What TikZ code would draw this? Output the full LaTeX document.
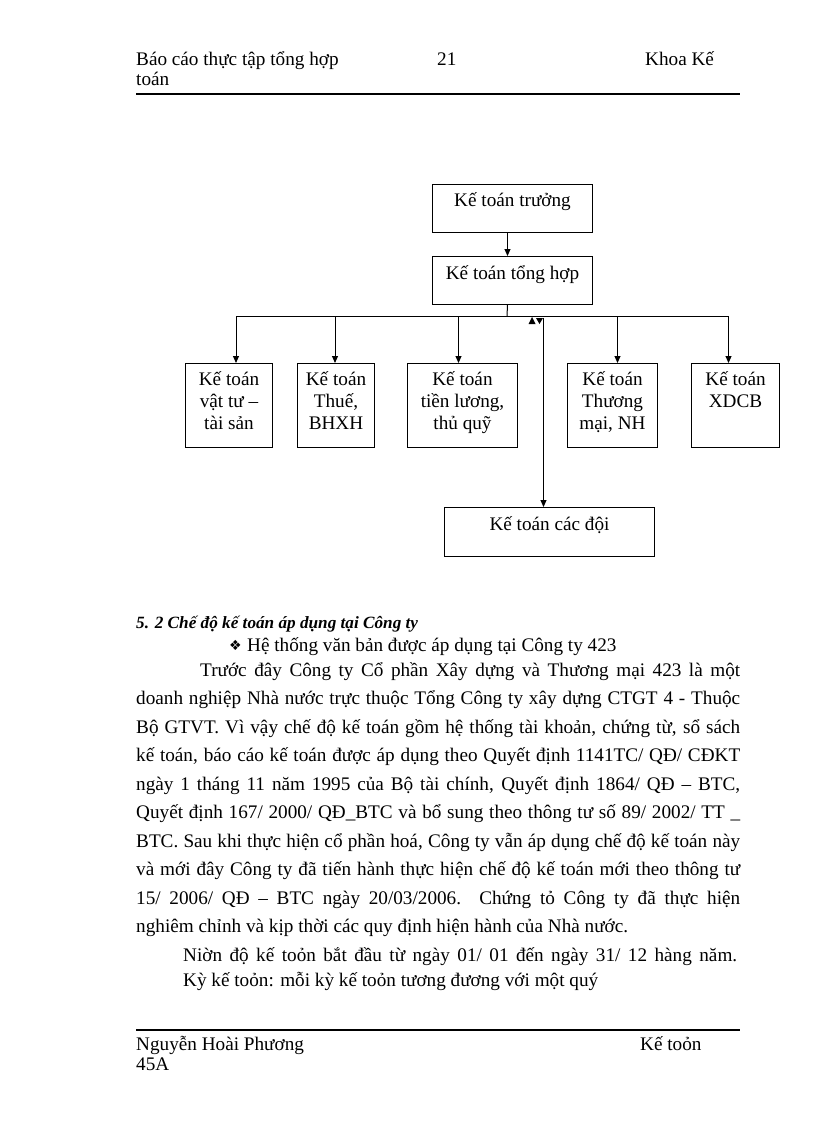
\documentclass[tikz,border=0pt]{standalone}
\usepackage{fontspec}
\setmainfont{Liberation Serif}
\newfontfamily\symbfont{DejaVu Sans}
\usetikzlibrary{arrows.meta}

\begin{document}
\begin{tikzpicture}[x=1pt,y=-1pt,
	txt/.style={anchor=base west, inner sep=0pt, font=\fontsize{19.2}{22}\selectfont},
	box/.style={draw, line width=1pt, anchor=north west, inner sep=0pt, align=center, font=\fontsize{19.2}{22}\selectfont},
	onebox/.style={box, text height=14pt, text depth=17pt},
	arr/.style={line width=1pt, -{Triangle[width=6pt,length=7pt]}}]
	\fill[white] (0,0) rectangle (816,1123);
	\useasboundingbox (0,0) rectangle (816,1123);
	% page header
	\node[txt] (hdrA) at (136,66) {Báo cáo thực tập tổng hợp};
	\node[txt] (hdrB) at (136,86) {toán};
	\node[txt] (hdrC) at (437,66) {21};
	\node[txt] (hdrD) at (645,66) {Khoa Kế};
	\draw[line width=2.2pt] (136,94) -- (740,94);
	% chart
	\node[onebox, minimum width=160pt, minimum height=48pt] (truong) at (432,184) {Kế toán trưởng};
	\node[onebox, minimum width=160pt, minimum height=48pt] (tonghop) at (432,256) {Kế toán tổng hợp};
	\node[box, text depth=9pt, minimum width=87pt, minimum height=84pt] (vattu) at (185,363) {Kế toán\\vật tư --\\tài sản};
	\node[box, text depth=9pt, minimum width=77pt, minimum height=84pt] (thue) at (297,363) {Kế toán\\Thuế,\\BHXH};
	\node[box, text depth=9pt, minimum width=110pt, minimum height=84pt] (luong) at (407,363) {Kế toán\\tiền lương,\\thủ quỹ};
	\node[box, text depth=9pt, minimum width=90pt, minimum height=84pt] (thuongmai) at (567,363) {Kế toán\\Thương\\mại, NH};
	\node[box, text depth=9pt, minimum width=88pt, minimum height=84pt] (xdcb) at (691,363) {Kế toán\\XDCB\\\mbox{}};
	\node[onebox, minimum width=210pt, minimum height=49pt] (doi) at (444,507) {Kế toán các đội};
	\coordinate (bus) at (507,316);
	\draw[arr] ([xshift=-5pt]truong.south) -- ([xshift=-5pt]tonghop.north);
	\draw[line width=1pt] ([xshift=-5pt]tonghop.south) -- (bus);
	\foreach \n/\dx in {vattu/7,thue/-1,luong/-4,thuongmai/5,xdcb/-7} {
		\coordinate (t\n) at ([xshift=\dx pt]\n.north);
		\draw[arr] (t\n |- bus) -- (t\n);
	}
	\draw[line width=1pt] (tvattu |- bus) -- (txdcb |- bus);
	\coordinate (tdoi) at ([xshift=-6pt]doi.north);
	\draw[arr] ([yshift=-2pt]tdoi |- bus) -- (tdoi);
	\fill (532,317) -- (528.5,324) -- (535.5,324) -- cycle;
	\fill (536,318) -- (543,318) -- (539.5,324) -- cycle;
	% text below
	\node[txt, font=\fontsize{17.2}{22}\selectfont\bfseries\itshape] (head) at (136,628) {5. 2 Chế độ kế toán áp dụng tại Công ty};
	\node[txt, font=\fontsize{14}{16}\symbfont] (bullet) at (229,650) {❖};
	\node[txt] (sub) at (247,651) {Hệ thống văn bản được áp dụng tại  Công ty 423};
	\node[txt] (line1) at (200,676) {\makebox[540pt][s]{Trước đây Công ty Cổ phần Xây dựng và Thương mại 423 là một}};
	\node[txt] (line2) at (136,704.5) {\makebox[604pt][s]{doanh nghiệp Nhà nước trực thuộc Tổng Công ty xây dựng CTGT 4 - Thuộc}};
	\node[txt] (line3) at (136,733) {\makebox[604pt][s]{Bộ GTVT. Vì vậy chế độ kế toán gồm hệ thống tài khoản, chứng từ, sổ sách}};
	\node[txt] (line4) at (136,761.5) {\makebox[604pt][s]{kế toán, báo cáo kế toán được áp dụng theo Quyết định 1141TC/ QĐ/ CĐKT}};
	\node[txt] (line5) at (136,790) {\makebox[604pt][s]{ngày 1 tháng 11 năm 1995 của Bộ tài chính, Quyết định 1864/ QĐ -- BTC,}};
	\node[txt] (line6) at (136,818.5) {\makebox[604pt][s]{Quyết định 167/ 2000/ QĐ\_BTC và bổ sung theo thông tư số 89/ 2002/ TT \_}};
	\node[txt] (line7) at (136,847) {\makebox[604pt][s]{BTC. Sau khi thực hiện cổ phần hoá, Công ty vẫn áp dụng chế độ kế toán này}};
	\node[txt] (line8) at (136,875.5) {\makebox[604pt][s]{và mới đây Công ty đã tiến hành thực hiện chế độ kế toán mới theo thông tư}};
	\node[txt] (line9) at (136,904) {\makebox[604pt][s]{15/ 2006/ QĐ -- BTC ngày 20/03/2006. Chứng tỏ Công ty đã thực hiện}};
	\node[txt] (line10) at (136,932.5) {nghiêm chỉnh và kịp thời các quy định hiện hành của Nhà nước.};
	\node[txt] (line11) at (183,961) {\makebox[554pt][s]{Niờn độ kế toỏn bắt đầu từ ngày 01/ 01 đến ngày 31/ 12 hàng năm.}};
	\node[txt] (line12) at (183,986) {Kỳ kế toỏn: mỗi kỳ kế toỏn tương đương với một quý};
	% page footer
	\draw[line width=2.2pt] (136,1030) -- (740,1030);
	\node[txt] (ftrA) at (136,1050) {Nguyễn Hoài Phương};
	\node[txt] (ftrB) at (136,1070) {45A};
	\node[txt] (ftrC) at (640,1050) {Kế toỏn};
\end{tikzpicture}
\end{document}
